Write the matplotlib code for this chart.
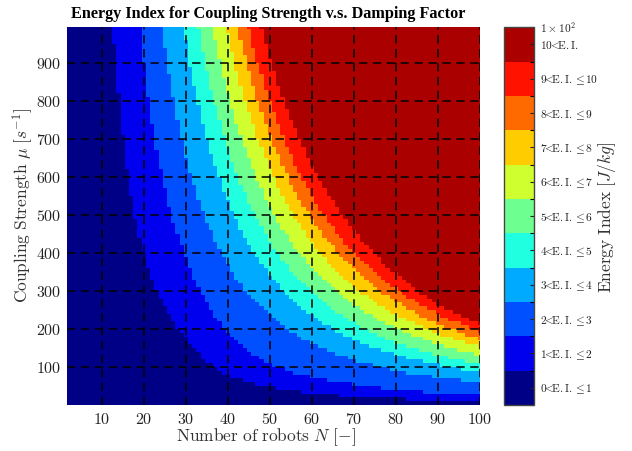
import numpy as np
import matplotlib
matplotlib.use("Agg")
import matplotlib.pyplot as plt
from matplotlib.colors import ListedColormap, BoundaryNorm
from matplotlib.ticker import FuncFormatter, FixedLocator

plt.rcParams['mathtext.fontset'] = 'cm'

# ---- data ----
# boundary Coupling Strength mu at which E.I. reaches level k, at sample N
N_samples = [5, 10, 15, 20, 30, 40, 50, 60, 70, 80, 90, 100]
mu_level1 = [6400, 1600, 711, 400, 178, 78, 48, 31, 22, 16, 12, 9]
mu_level2 = [14400, 3600, 1600, 900, 390, 190, 108, 73, 54, 41, 32, 26]
mu_level3 = [23600, 5900, 2620, 1475, 655, 369, 236, 162, 118, 91, 72, 59]
mu_level4 = [34400, 8600, 3820, 2150, 955, 537, 342, 236, 173, 132, 106, 88]
mu_level5 = [43200, 10800, 4800, 2700, 1200, 675, 430, 296, 216, 164, 131, 108]
mu_level6 = [52400, 13100, 5820, 3275, 1455, 819, 522, 360, 264, 202, 160, 132]
mu_level7 = [62400, 15600, 6930, 3900, 1733, 975, 622, 428, 312, 238, 188, 153]
mu_level8 = [71200, 17800, 7910, 4450, 1978, 1112, 710, 490, 357, 272, 214, 174]
mu_level9 = [80000, 20000, 8890, 5000, 2222, 1250, 798, 550, 400, 305, 240, 194]
mu_level10 = [92000, 23000, 10220, 5750, 2555, 1440, 915, 630, 460, 345, 265, 212]
boundaries = [mu_level1, mu_level2, mu_level3, mu_level4, mu_level5,
              mu_level6, mu_level7, mu_level8, mu_level9, mu_level10]

band_labels = [r"$%d\!\!<\!\!\mathrm{E.I.}\leq\!%d$" % (k, k + 1) for k in range(10)] + \
              [r"$10\!\!<\!\!\mathrm{E.I.}$"]
band_colors = ['#000087', '#0000EE', '#0050FF', '#00AAFF', '#20FFDF', '#6EFF91',
               '#D0FF2F', '#FFCC00', '#FF6A00', '#FF1200', '#AA0000']
x_ticks = [10, 20, 30, 40, 50, 60, 70, 80, 90, 100]
y_ticks = [100, 200, 300, 400, 500, 600, 700, 800, 900]

# ---- grid ----
N_edges = np.arange(1.5, 101.5, 1.0)
mu_edges = np.arange(0, 1010, 10.0)
Nc = 0.5 * (N_edges[:-1] + N_edges[1:])
muc = 0.5 * (mu_edges[:-1] + mu_edges[1:])
NN, MM = np.meshgrid(Nc, muc)
level = np.zeros_like(NN)
lnN = np.log(N_samples)
for b in boundaries:
    mub = np.exp(np.interp(np.log(Nc), lnN, np.log(b)))
    level += (MM >= mub[None, :])

cmap = ListedColormap(band_colors)
norm = BoundaryNorm(np.arange(-0.5, 11.5, 1.0), 11)

fig = plt.figure(figsize=(6.32, 4.51), dpi=100)
ax = fig.add_axes([0.1055, 0.102, 0.6540, 0.8375])
mesh = ax.pcolormesh(N_edges, mu_edges, level, cmap=cmap, norm=norm, shading='flat')
ax.set_xlim(1.65, 100)
ax.set_ylim(0, 994)
ax.set_xticks(x_ticks)
ax.set_yticks(y_ticks)
fmt = FuncFormatter(lambda v, p: r"$%d$" % int(round(v)))
ax.xaxis.set_major_formatter(fmt)
ax.yaxis.set_major_formatter(fmt)
ax.tick_params(axis='both', length=0, labelsize=11.5, colors='#222222')
ax.tick_params(axis='x', pad=5)
ax.tick_params(axis='y', pad=4)
for s in ax.spines.values():
    s.set_visible(False)
ax.set_axisbelow(False)
ax.grid(True, color='black', linestyle=(0, (5.5, 3.6)), linewidth=1.1)

fig.text(266 / 632, 1 - 437 / 451, r"$\mathrm{Number\ of\ robots}\ N\ [-]$", fontsize=12.5,
         color='#333333', ha='center', va='center')
fig.text(23 / 632, 1 - 205 / 451, r"$\mathrm{Coupling\ Strength}\ \mu\ [s^{-1}]$", fontsize=12.5,
         color='#333333', rotation=90, ha='center', va='center')
fig.text(268.5 / 632, 1 - 14 / 451, "Energy Index for Coupling Strength v.s. Damping Factor",
         family='Liberation Serif', fontweight='bold', fontsize=11.7, ha='center', va='center')

cax = fig.add_axes([0.797, 0.102, 0.048, 0.8375])
cb = fig.colorbar(mesh, cax=cax, ticks=np.arange(0, 11))
cb.ax.set_yticklabels(band_labels)
cb.ax.yaxis.set_minor_locator(FixedLocator(np.arange(-0.5, 11.0, 1.0)))
cb.ax.tick_params(which='major', direction='in', length=3, width=0.8, labelsize=8.2, pad=4, colors='#222222')
cb.ax.tick_params(which='minor', direction='in', length=3, width=0.8)
cb.outline.set_edgecolor('#444444')
cb.outline.set_linewidth(1.0)
fig.text(607 / 632, 1 - 217 / 451, r"$\mathrm{Energy\ Index}\ [J/kg]$", fontsize=12.5,
         color='#333333', rotation=90, ha='center', va='center')
cb.ax.text(1.2, 1.0, r"$1\times10^{2}$", transform=cb.ax.transAxes, fontsize=8.2,
           va='center', ha='left', color='#222222')

fig.savefig("out.png", dpi=100)
